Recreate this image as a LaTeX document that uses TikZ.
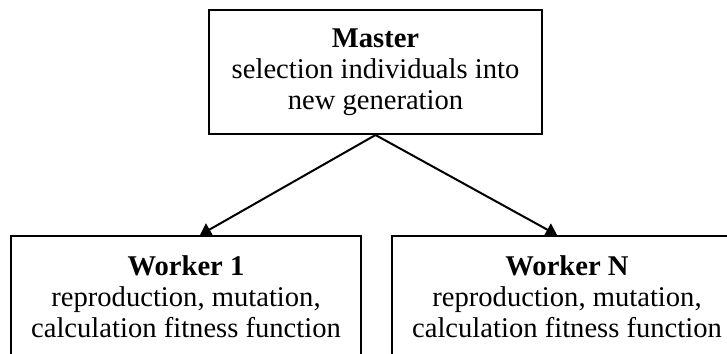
\documentclass[tikz,border=0pt]{standalone}
\usepackage{fontspec}
\setmainfont{Liberation Serif}
\usetikzlibrary{arrows.meta}
\begin{document}
\begin{tikzpicture}[x=0.5pt,y=-0.5pt,
    box/.style={draw, line width=1pt, align=center, inner sep=0pt,
      font=\fontsize{14.3}{15.5}\selectfont},
    link/.style={line width=1pt, -{Triangle[length=5.5pt,width=7pt]}}]
        % Marco de la imagen
        \useasboundingbox (0,0) rectangle (727,353);
        % Nodo maestro
        \node[box, minimum width=166.5pt, minimum height=62pt] (master) at (375.5,72)
            {\textbf{Master}\\selection individuals into\\new generation};
        % Nodos trabajadores
        \node[box, minimum width=175pt, minimum height=61pt] (worker1) at (186,297)
            {\textbf{Worker 1}\\reproduction, mutation,\\calculation fitness function};
        \node[box, minimum width=175pt, minimum height=61pt] (workerN) at (567,297)
            {\textbf{Worker N}\\reproduction, mutation,\\calculation fitness function};
        % Flechas
        \draw[link] (master.south) -- ([xshift=7pt]worker1.north);
        \draw[link] (master.south) -- ([xshift=-5pt]workerN.north);
    \end{tikzpicture}
\end{document}
